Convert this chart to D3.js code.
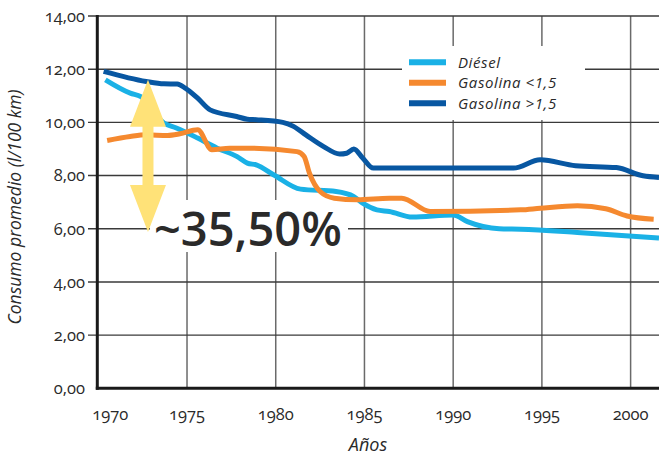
<!DOCTYPE html>
<html>
<head>
<meta charset="UTF-8">
<script src="https://d3js.org/d3.v7.min.js"></script>
<style>
  body { margin: 0; background: #fff; }
  text { font-family: "Open Sans", Lato, sans-serif; fill: #2a2a2a; }
  .num { font-variant-numeric: oldstyle-nums; font-feature-settings: "onum" 1; }
</style>
</head>
<body>
<svg id="chart"></svg>
<script>
// data: [year, l/100 km]
var diesel = [[1970.4,11.60],[1971.8,11.10],[1972.4,10.97],[1973.7,9.97],[1974.4,9.79],[1975.6,9.41],
  [1976.7,9.03],[1977.8,8.72],[1978.4,8.47],[1978.9,8.40],[1979.9,8.02],[1981.4,7.49],[1983.4,7.40],
  [1984.4,7.21],[1984.9,6.96],[1985.7,6.71],[1986.4,6.65],[1987.7,6.44],[1990.0,6.52],[1990.8,6.27],
  [1992.6,6.00],[1993.8,5.98],[1997.0,5.86],[2001.6,5.65]];
var gasLow = [[1970.5,9.32],[1971.8,9.47],[1972.7,9.53],[1973.9,9.51],[1974.6,9.57],[1975.6,9.72],
  [1976.4,8.97],[1977.4,9.03],[1978.4,9.03],[1981.2,8.90],[1981.6,8.72],[1981.9,8.09],[1982.5,7.40],
  [1983.3,7.15],[1984.6,7.09],[1986.4,7.15],[1987.1,7.15],[1988.7,6.65],[1993.8,6.71],[1994.9,6.77],
  [1997.0,6.86],[1998.6,6.75],[1999.8,6.48],[2001.3,6.36]];
var gasHigh = [[1970.3,11.92],[1972.7,11.54],[1973.7,11.45],[1974.45,11.44],[1974.9,11.29],[1975.6,10.91],
  [1976.3,10.47],[1977.8,10.22],[1978.4,10.12],[1978.9,10.10],[1980.4,10.00],[1981.0,9.85],[1981.7,9.53],
  [1982.7,9.09],[1983.6,8.81],[1984.0,8.84],[1984.4,9.00],[1984.9,8.66],[1985.5,8.28],[1986.4,8.28],
  [1993.4,8.28],[1994.9,8.59],[1996.9,8.37],[1999.2,8.30],[2000.7,7.99],[2001.6,7.93]];

var seriesNames = ["Diésel", "Gasolina <1,5", "Gasolina >1,5"];
var seriesColors = ["#1ab1e6", "#f5892f", "#0857a2"];
var xTicks = [1970, 1975, 1980, 1985, 1990, 1995, 2000];
var yTicks = [0, 2, 4, 6, 8, 10, 12, 14];
var pctLabel = "~35,50%";
var arrowYear = 1972.8, arrowFrom = 11.6, arrowTo = 5.88;

var W = 659, H = 458;
var svg = d3.select("#chart").attr("width", W).attr("height", H);

var x = d3.scaleLinear().domain([1970, 2001.6]).range([98.3, 659]);
var y = d3.scaleLinear().domain([0, 14]).range([388.3, 16]);
var fmt = function(d) { return d3.format(".2f")(d).replace(".", ","); };

// vertical grid
svg.append("g").selectAll("line").data(xTicks.slice(1)).enter().append("line")
  .attr("x1", d => x(d)).attr("x2", d => x(d))
  .attr("y1", y(14)).attr("y2", y(0))
  .attr("stroke", "#6a6a6a").attr("stroke-width", 1.5);

// horizontal grid + tick stubs
svg.append("g").selectAll("line").data(yTicks.slice(1)).enter().append("line")
  .attr("x1", 88).attr("x2", W)
  .attr("y1", d => y(d)).attr("y2", d => y(d))
  .attr("stroke", "#3a3a3a").attr("stroke-width", 1.4);

// white patches behind legend and percentage label
svg.append("rect").attr("x", 402).attr("y", 46).attr("width", 183).attr("height", 74).attr("fill", "#fff");
svg.append("rect").attr("x", 150).attr("y", 200).attr("width", 198).attr("height", 52).attr("fill", "#fff");

// axes lines
svg.append("line").attr("x1", x(1970) - 1).attr("x2", x(1970) - 1)
  .attr("y1", y(14) - 1).attr("y2", y(0) + 1.5).attr("stroke", "#1a1a1a").attr("stroke-width", 3);
svg.append("line").attr("x1", x(1970) - 2.5).attr("x2", W)
  .attr("y1", y(0)).attr("y2", y(0)).attr("stroke", "#1a1a1a").attr("stroke-width", 3);

// tick labels
svg.append("g").selectAll("text").data(yTicks).enter().append("text")
  .attr("class", "num")
  .attr("x", 85).attr("y", d => y(d)).attr("dy", "0.35em")
  .attr("text-anchor", "end").attr("font-size", 16.5)
  .text(fmt);
svg.append("g").selectAll("text").data(xTicks).enter().append("text")
  .attr("class", "num")
  .attr("x", (d, i) => x(d) + (i === 0 ? 12 : 0)).attr("y", 420)
  .attr("text-anchor", "middle").attr("font-size", 16.5)
  .text(d => d);

// axis titles
svg.append("text").attr("transform", "translate(21,207) rotate(-90)")
  .attr("text-anchor", "middle").attr("font-size", 17.5).attr("font-style", "italic")
  .text("Consumo promedio (l/100 km)");
svg.append("text").attr("x", 368).attr("y", 451)
  .attr("text-anchor", "middle").attr("font-size", 18).attr("font-style", "italic")
  .text("Años");

// lines
var line = d3.line().x(d => x(d[0])).y(d => y(d[1])).curve(d3.curveMonotoneX);
[diesel, gasLow, gasHigh].forEach(function(s, i) {
  svg.append("path").datum(s)
    .attr("d", line)
    .attr("fill", "none")
    .attr("stroke", seriesColors[i])
    .attr("stroke-width", 5)
    .attr("stroke-linejoin", "round");
});

// arrow annotation
var ax = x(arrowYear), aTop = y(arrowFrom), aBot = y(arrowTo);
var hw = 18, sw = 5.5, hl = 47;
var pts = [[ax, aTop], [ax + hw, aTop + hl], [ax + sw, aTop + hl], [ax + sw, aBot - hl], [ax + hw, aBot - hl],
  [ax, aBot], [ax - hw, aBot - hl], [ax - sw, aBot - hl], [ax - sw, aTop + hl], [ax - hw, aTop + hl]];
svg.append("polygon").attr("points", pts.map(p => p.join(",")).join(" ")).attr("fill", "#ffe278");

svg.append("text").attr("x", 154).attr("y", 246)
  .attr("font-size", 47).attr("font-weight", 600).attr("fill", "#1a1a1a")
  .text(pctLabel);

// legend
var leg = svg.append("g").selectAll("g").data(seriesNames).enter().append("g")
  .attr("transform", (d, i) => "translate(409," + (62.3 + i * 20.5) + ")");
leg.append("line").attr("x1", 0).attr("x2", 37)
  .attr("stroke", (d, i) => seriesColors[i]).attr("stroke-width", 6);
leg.append("text").attr("x", 49).attr("dy", "0.35em")
  .attr("font-size", 15).attr("letter-spacing", 0.6).attr("font-style", "italic")
  .text(d => d);
</script>
</body>
</html>
